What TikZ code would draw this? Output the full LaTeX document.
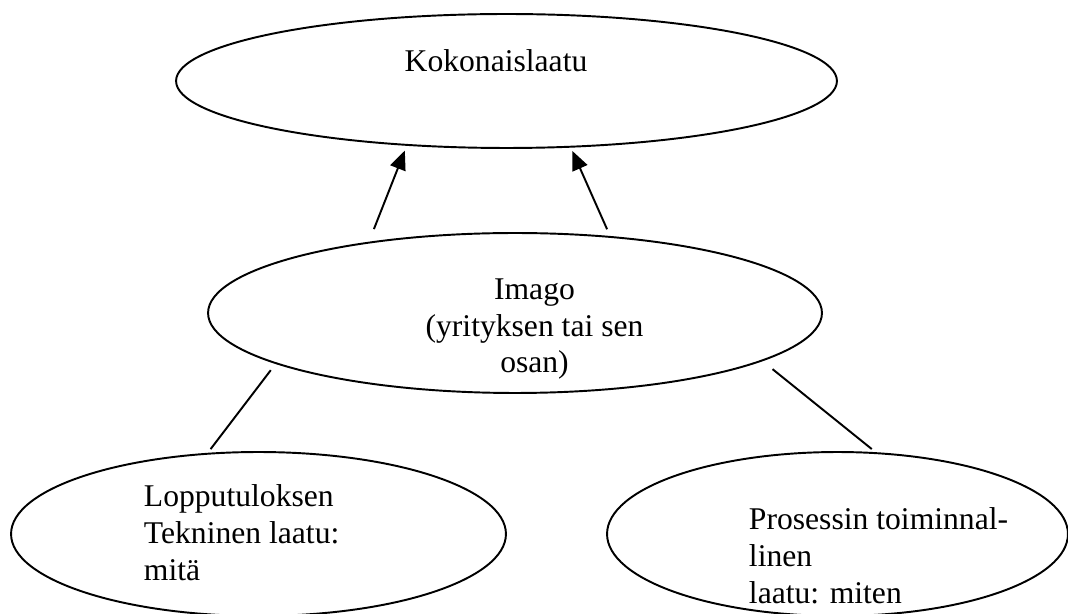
\documentclass[tikz,border=0pt]{standalone}
\usepackage{fontspec}
\setmainfont{Liberation Serif}
\usetikzlibrary{shapes.geometric,arrows.meta}
\begin{document}
\begin{tikzpicture}[x=0.02cm,y=-0.02cm,line width=1.1pt,
  ell/.style={draw,ellipse,inner sep=0pt},
  txt/.style={inner sep=0pt,font=\fontsize{18}{21}\selectfont},
  nuoli/.style={-{Triangle[length=0.38cm,width=0.32cm]}}]
\useasboundingbox (0,0) rectangle (1068,614);

\node[ell,minimum width=13.22cm,minimum height=2.68cm] (total) at (506.5,81) {};
\node[ell,minimum width=12.28cm,minimum height=3.2cm] (imago) at (515,313) {};
\node[ell,minimum width=9.9cm,minimum height=3.28cm] (tulos) at (258.5,534) {};
\node[ell,minimum width=9.22cm,minimum height=3.28cm] (prosessi) at (837.5,534) {};

\node[txt,anchor=base] (totaltxt) at (496,72) {Kokonaislaatu};
\node[txt,anchor=base,align=center] (imagotxt) at (534.5,373) {Imago\\(yrityksen tai sen\\osan)};
\node[txt,anchor=base west,align=left] (tulostxt) at (143,580) {Lopputuloksen\\Tekninen laatu:\\mitä};
\node[txt,anchor=base west,align=left] (prosessitxt) at (748,603) {Prosessin toiminnal-\\linen\\laatu: miten};

\draw[nuoli,shorten <=0.272cm,shorten >=0.104cm] (imago.154.1) -- (total.213.25);
\draw[nuoli,shorten <=0.148cm,shorten >=0.072cm] (imago.39.4) -- (total.314.3);

\draw[shorten <=0.158cm,shorten >=0.092cm] (imago.192.1) -- (tulos.122.5);
\draw[shorten <=0.256cm,shorten >=0.1cm] (imago.349) -- (prosessi.65.7);

\end{tikzpicture}
\end{document}
